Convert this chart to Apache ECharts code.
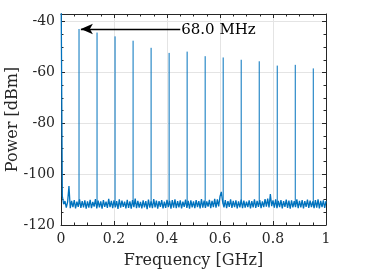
<!DOCTYPE html>
<html><head><meta charset="utf-8">
<script src="https://cdn.jsdelivr.net/npm/echarts@6/dist/echarts.min.js"></script>
<style>html,body{margin:0;padding:0;background:#fff}#c{width:381px;height:272px}</style>
</head><body><div id="c"></div>
<script>
const xTicks = [0, 0.2, 0.4, 0.6, 0.8, 1];
const yTicks = [-120, -100, -80, -60, -40];
const xAxisTitle = 'Frequency [GHz]';
const yAxisTitle = 'Power [dBm]';
const annotationText = '68.0 MHz';

// spectrum noise floor, sampled every 5 MHz from 0 GHz (DC value clipped above the plot)
const noiseStartGHz = 0;
const noiseStepGHz = 0.005;
const noiseLevels = [
  -20,
  -108.6, -111.8, -110.6, -113.2, -110.9, -104.7, -113.4, -110.5, -113.0, -110.2, -113.5, -110.8, -112.9, -109.9, -113.3, -110.6, -113.1, -110.3, -113.6, -110.7,
  -113.2, -110.1, -113.4, -110.9, -112.8, -109.8, -113.5, -110.4, -113.1, -110.7, -113.6, -110.2, -112.9, -110.8, -113.3, -109.7, -113.0, -110.5, -113.4, -110.3,
  -113.1, -110.6, -113.7, -109.9, -113.2, -110.4, -112.9, -110.8, -113.5, -110.1, -113.3, -110.7, -113.6, -110.2, -113.0, -109.6, -113.4, -110.5, -113.2, -110.9,
  -113.5, -110.3, -113.1, -110.6, -113.8, -110.0, -113.2, -110.7, -113.4, -109.8, -113.1, -110.4, -113.6, -110.6, -112.9, -110.2, -113.5, -110.8, -113.3, -110.1,
  -113.0, -110.5, -113.6, -110.2, -113.2, -109.9, -113.4, -110.6, -113.1, -110.3, -113.5, -110.8, -112.9, -110.0, -113.3, -110.5, -113.6, -110.3, -113.1, -110.7,
  -113.4, -110.2, -113.0, -110.6, -113.5, -109.8, -113.2, -110.4, -113.3, -110.7, -112.8, -110.1, -113.4, -110.5, -113.0, -109.7, -113.2, -109.9, -112.7, -108.8,
  -107.0, -110.9, -113.1, -110.2, -113.4, -110.6, -112.9, -109.9, -113.3, -110.5, -113.0, -110.3, -113.5, -110.7, -113.1, -110.0, -113.4, -110.4, -113.2, -110.8,
  -113.0, -110.3, -113.5, -110.6, -113.1, -109.9, -113.3, -110.5, -112.9, -110.2, -113.4, -110.7, -113.0, -109.8, -112.8, -109.6, -113.1, -107.8, -112.6, -110.3,
  -113.2, -109.9, -113.4, -110.5, -113.0, -110.2, -113.5, -110.6, -112.9, -110.0, -113.3, -110.4, -113.6, -110.3, -113.1, -110.6, -113.0, -109.9, -113.4, -110.5,
  -113.1, -110.2, -113.5, -110.6, -112.9, -110.0, -113.3, -110.4, -113.0, -110.7, -113.4, -110.2, -113.2, -109.9, -113.5, -110.5, -113.0, -110.3, -113.3, -110.6
];

// harmonic peaks (multiples of 68 MHz)
const peakFreqsGHz = [0.068, 0.136, 0.204, 0.272, 0.340, 0.408, 0.476, 0.544, 0.612, 0.680, 0.748, 0.816, 0.884, 0.952];
const peakLevels = [-42.9, -44.3, -45.8, -47.5, -50.3, -52.3, -51.8, -53.6, -54.1, -55.0, -55.6, -57.3, -57.0, -58.4];
const peakBaseLevel = -111.8;

// annotation arrow (data coordinates)
const arrowStart = [0.450, -42.9];
const arrowEnd = [0.075, -42.9];

const FONT = 'DejaVu Serif';
const AX = '#262626';
const BLUE = '#0072BD';

const noiseData = noiseLevels.map((v, i) => [noiseStartGHz + i * noiseStepGHz, v]);
const peakData = peakFreqsGHz.map((f, i) => [f, peakLevels[i], peakBaseLevel]);

const chart = echarts.init(document.getElementById('c'), null, {renderer: 'canvas'});

const commonTick = {show: true, inside: true, length: 4, lineStyle: {color: AX, width: 1}};
const commonMinor = {show: true, splitNumber: 4, length: 2.5, lineStyle: {color: AX, width: 1}};

chart.setOption({
  animation: false,
  backgroundColor: '#fff',
  grid: {left: 61, right: 55, top: 14, bottom: 47, containLabel: false, outerBoundsMode: 'none'},
  xAxis: [{
    type: 'value', min: xTicks[0], max: xTicks[xTicks.length - 1], interval: 0.2,
    position: 'bottom',
    name: xAxisTitle, nameLocation: 'middle', nameGap: 28, nameMoveOverlap: false,
    nameTextStyle: {fontFamily: FONT, fontSize: 16, color: AX},
    axisLine: {show: true, onZero: false, lineStyle: {color: AX, width: 1}},
    axisTick: commonTick, minorTick: commonMinor,
    splitLine: {show: true, lineStyle: {color: '#e4e4e4', width: 1}},
    axisLabel: {fontFamily: FONT, fontSize: 14, color: AX, margin: 7,
      formatter: v => String(+v.toFixed(1))}
  }, {
    type: 'value', min: xTicks[0], max: xTicks[xTicks.length - 1], interval: 0.2,
    position: 'top',
    axisLine: {show: true, onZero: false, lineStyle: {color: AX, width: 1}},
    axisTick: commonTick, minorTick: commonMinor,
    splitLine: {show: false}, axisLabel: {show: false}
  }],
  yAxis: [{
    type: 'value', min: yTicks[0], max: -37, interval: 20,
    position: 'left',
    name: yAxisTitle, nameLocation: 'middle', nameGap: 40, nameMoveOverlap: false,
    nameTextStyle: {fontFamily: FONT, fontSize: 16, color: AX},
    axisLine: {show: true, onZero: false, lineStyle: {color: AX, width: 1}},
    axisTick: commonTick, minorTick: commonMinor,
    splitLine: {show: true, lineStyle: {color: '#e4e4e4', width: 1}},
    axisLabel: {fontFamily: FONT, fontSize: 14, color: AX, margin: 6, showMaxLabel: false}
  }, {
    type: 'value', min: yTicks[0], max: -37, interval: 20,
    position: 'right',
    axisLine: {show: true, onZero: false, lineStyle: {color: AX, width: 1}},
    axisTick: commonTick, minorTick: commonMinor,
    splitLine: {show: false}, axisLabel: {show: false}
  }],
  series: [{
    type: 'line',
    data: noiseData,
    xAxisIndex: 0, yAxisIndex: 0,
    showSymbol: false, symbol: 'none',
    clip: true,
    lineStyle: {color: BLUE, width: 1.3},
    z: 3,
    markLine: {
      silent: true,
      symbol: ['none', 'arrow'],
      symbolSize: [8, 12],
      lineStyle: {color: '#000', width: 1.3, type: 'solid'},
      label: {show: false},
      data: [[{coord: arrowStart}, {coord: arrowEnd}]]
    },
    markPoint: {
      silent: true,
      symbol: 'circle', symbolSize: 0,
      label: {show: true, position: 'right', distance: 1, offset: [0, 1.5],
        fontFamily: FONT, fontSize: 15, color: '#000', formatter: annotationText},
      data: [{coord: arrowStart}]
    }
  }, {
    type: 'custom',
    xAxisIndex: 0, yAxisIndex: 0,
    clip: true,
    z: 3,
    data: peakData,
    renderItem: function (params, api) {
      const top = api.coord([api.value(0), api.value(1)]);
      const base = api.coord([api.value(0), api.value(2)]);
      return {type: 'line', shape: {x1: top[0], y1: top[1], x2: base[0], y2: base[1]},
        style: {stroke: BLUE, lineWidth: 1}};
    }
  }]
});
</script></body></html>
